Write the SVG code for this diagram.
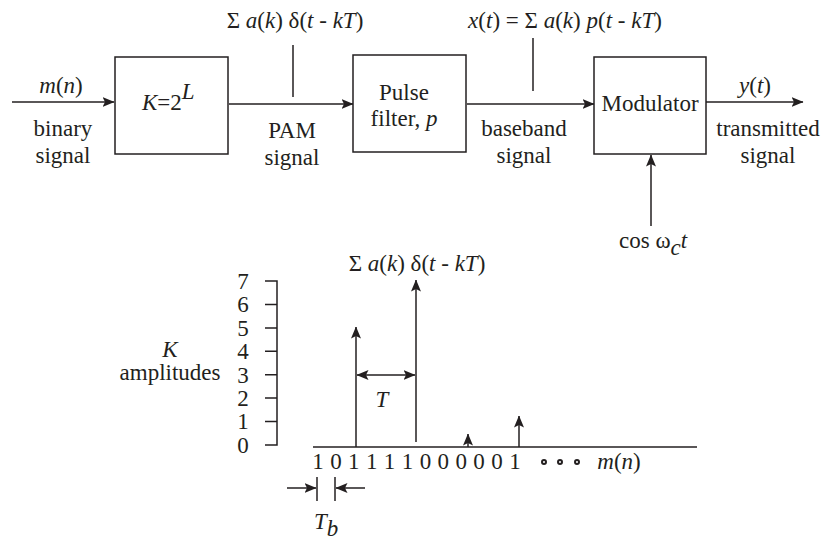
<svg xmlns="http://www.w3.org/2000/svg" width="822" height="542" viewBox="0 0 822 542">
<defs>
<marker id="ah" viewBox="0 0 12 10" markerWidth="12" markerHeight="10" refX="11.5" refY="5" orient="auto-start-reverse" markerUnits="userSpaceOnUse">
<path d="M0,0 L12,5 L0,10 L2.5,5 z" fill="#231f20"/>
</marker>
</defs>
<rect width="822" height="542" fill="#fff"/>

<g id="connectors" stroke="#231f20" stroke-width="1.5" fill="none">
<line marker-end="url(#ah)" x1="12" y1="102" x2="114" y2="102"/>
<line marker-end="url(#ah)" x1="229" y1="104" x2="353" y2="104"/>
<line marker-end="url(#ah)" x1="467" y1="104" x2="594" y2="104"/>
<line marker-end="url(#ah)" x1="706" y1="102" x2="803" y2="102"/>
<line marker-end="url(#ah)" x1="651" y1="226" x2="651" y2="155"/>
<line x1="293" y1="45" x2="293" y2="97"/>
<line x1="533" y1="38" x2="533" y2="91"/>
</g>

<g id="box1">
<rect x="115" y="57" width="113" height="97" fill="#fff" stroke="#231f20" stroke-width="1.5"/>
<text font-family="Liberation Serif" font-size="23" fill="#231f20" x="142" y="110"><tspan font-style="italic">K</tspan>=2<tspan font-style="italic" dy="-11">L</tspan></text>
</g>
<g id="box2">
<rect x="353" y="55" width="113" height="97" fill="#fff" stroke="#231f20" stroke-width="1.5"/>
<text font-family="Liberation Serif" font-size="23" fill="#231f20" text-anchor="middle" x="404" y="100">Pulse</text>
<text font-family="Liberation Serif" font-size="23" fill="#231f20" text-anchor="middle" x="404" y="126">filter, <tspan font-style="italic">p</tspan></text>
</g>
<g id="modulator">
<rect x="594" y="57" width="112" height="97" fill="#fff" stroke="#231f20" stroke-width="1.5"/>
<text font-family="Liberation Serif" font-size="23" fill="#231f20" text-anchor="middle" x="650" y="111">Modulator</text>
</g>

<g id="labels">
<text font-family="Liberation Serif" font-size="23" fill="#231f20" text-anchor="middle" x="61" y="93"><tspan font-style="italic">m</tspan>(<tspan font-style="italic">n</tspan>)</text>
<text font-family="Liberation Serif" font-size="23" fill="#231f20" text-anchor="middle" x="63" y="136">binary</text>
<text font-family="Liberation Serif" font-size="23" fill="#231f20" text-anchor="middle" x="63" y="163">signal</text>
<text font-family="Liberation Serif" font-size="23" fill="#231f20" text-anchor="middle" x="295" y="28">Σ <tspan font-style="italic">a</tspan>(<tspan font-style="italic">k</tspan>) δ(<tspan font-style="italic">t</tspan> - <tspan font-style="italic">kT</tspan>)</text>
<text font-family="Liberation Serif" font-size="23" fill="#231f20" text-anchor="middle" x="292" y="138">PAM</text>
<text font-family="Liberation Serif" font-size="23" fill="#231f20" text-anchor="middle" x="292" y="165">signal</text>
<text font-family="Liberation Serif" font-size="23" fill="#231f20" text-anchor="middle" x="565" y="28"><tspan font-style="italic">x</tspan>(<tspan font-style="italic">t</tspan>) = Σ <tspan font-style="italic">a</tspan>(<tspan font-style="italic">k</tspan>) <tspan font-style="italic">p</tspan>(<tspan font-style="italic">t</tspan> - <tspan font-style="italic">kT</tspan>)</text>
<text font-family="Liberation Serif" font-size="23" fill="#231f20" text-anchor="middle" x="524" y="136">baseband</text>
<text font-family="Liberation Serif" font-size="23" fill="#231f20" text-anchor="middle" x="524" y="163">signal</text>
<text font-family="Liberation Serif" font-size="23" fill="#231f20" text-anchor="middle" x="755" y="93"><tspan font-style="italic">y</tspan>(<tspan font-style="italic">t</tspan>)</text>
<text font-family="Liberation Serif" font-size="23" fill="#231f20" text-anchor="middle" x="768" y="136">transmitted</text>
<text font-family="Liberation Serif" font-size="23" fill="#231f20" text-anchor="middle" x="768" y="163">signal</text>
<text font-family="Liberation Serif" font-size="23" fill="#231f20" x="619" y="248">cos ω<tspan font-style="italic" dy="7">c</tspan><tspan font-style="italic" dy="-7">t</tspan></text>
</g>

<g id="chart">
<text font-family="Liberation Serif" font-size="23" fill="#231f20" text-anchor="middle" x="417" y="271">Σ <tspan font-style="italic">a</tspan>(<tspan font-style="italic">k</tspan>) δ(<tspan font-style="italic">t</tspan> - <tspan font-style="italic">kT</tspan>)</text>
<text font-family="Liberation Serif" font-size="23" fill="#231f20" text-anchor="middle" x="170" y="357" font-style="italic">K</text>
<text font-family="Liberation Serif" font-size="23" fill="#231f20" text-anchor="middle" x="170" y="380">amplitudes</text>
<text font-family="Liberation Serif" font-size="23" fill="#231f20" text-anchor="middle" x="243" y="289">7</text>
<text font-family="Liberation Serif" font-size="23" fill="#231f20" text-anchor="middle" x="243" y="312">6</text>
<text font-family="Liberation Serif" font-size="23" fill="#231f20" text-anchor="middle" x="243" y="336">5</text>
<text font-family="Liberation Serif" font-size="23" fill="#231f20" text-anchor="middle" x="243" y="359">4</text>
<text font-family="Liberation Serif" font-size="23" fill="#231f20" text-anchor="middle" x="243" y="383">3</text>
<text font-family="Liberation Serif" font-size="23" fill="#231f20" text-anchor="middle" x="243" y="406">2</text>
<text font-family="Liberation Serif" font-size="23" fill="#231f20" text-anchor="middle" x="243" y="429">1</text>
<text font-family="Liberation Serif" font-size="23" fill="#231f20" text-anchor="middle" x="243" y="453">0</text>
<g stroke="#231f20" stroke-width="1.5" fill="none">
<path d="M265,281 H277 V445 H265 M265,304.4 H277 M265,327.9 H277 M265,351.3 H277 M265,374.7 H277 M265,398.1 H277 M265,421.6 H277"/>
<line x1="313" y1="447" x2="697" y2="447"/>
<line marker-end="url(#ah)" x1="356" y1="447" x2="356" y2="327"/>
<line marker-end="url(#ah)" x1="416" y1="442" x2="416" y2="280"/>
<line marker-end="url(#ah)" x1="468" y1="447" x2="468" y2="434"/>
<line marker-end="url(#ah)" x1="519" y1="447" x2="519" y2="416"/>
<line x1="357" y1="375" x2="415" y2="375" marker-start="url(#ah)" marker-end="url(#ah)"/>
<line marker-end="url(#ah)" x1="287" y1="488" x2="316" y2="488"/>
<line x1="317" y1="477" x2="317" y2="501"/>
<line x1="335" y1="477" x2="335" y2="501"/>
<line marker-end="url(#ah)" x1="365" y1="488" x2="336" y2="488"/>
<circle cx="544" cy="462" r="2" stroke-width="2"/>
<circle cx="560" cy="462" r="2" stroke-width="2"/>
<circle cx="577" cy="462" r="2" stroke-width="2"/>
</g>
<text font-family="Liberation Serif" font-size="23" fill="#231f20" text-anchor="middle" x="382" y="407" font-style="italic">T</text>
<text font-family="Liberation Serif" font-size="23" fill="#231f20" text-anchor="middle" x="318 335.9 353.8 371.7 389.6 407.5 425.4 443.3 461.2 479.1 497 514.9" y="469">101111000001</text>
<text font-family="Liberation Serif" font-size="23" fill="#231f20" text-anchor="middle" x="619" y="469"><tspan font-style="italic">m</tspan>(<tspan font-style="italic">n</tspan>)</text>
<text font-family="Liberation Serif" font-size="23" fill="#231f20" x="314" y="529" font-style="italic">T<tspan dy="7">b</tspan></text>
</g>
</svg>
